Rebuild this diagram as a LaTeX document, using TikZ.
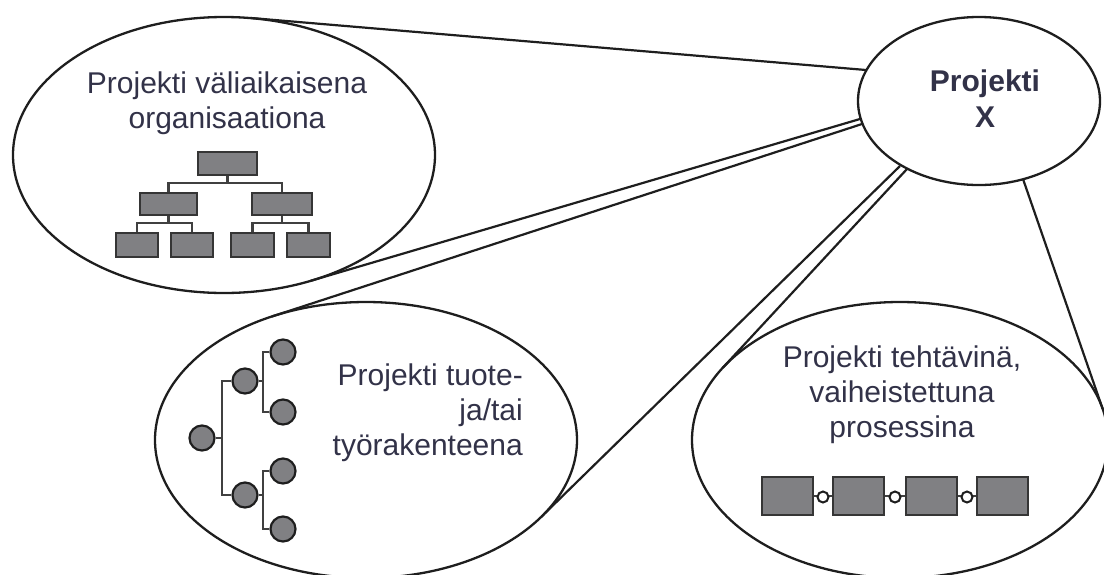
\documentclass[tikz,border=0pt]{standalone}
\usepackage{fontspec}
\setmainfont{Liberation Sans}
\usetikzlibrary{shapes.geometric}
\definecolor{ink}{RGB}{30,30,30}
\definecolor{txt}{RGB}{50,50,72}
\definecolor{boxgray}{RGB}{128,128,131}
\begin{document}
\begin{tikzpicture}[x=1pt,y=-1pt,
  bubble/.style={ellipse, draw=ink, line width=2.3pt, inner sep=0pt},
  link/.style={draw=ink, line width=2.2pt},
  orgbox/.style={rectangle, draw=ink!90, fill=boxgray, line width=2.4pt, inner sep=0pt},
  treenode/.style={circle, draw=ink, fill=boxgray, line width=2.2pt, minimum size=25pt, inner sep=0pt},
  joint/.style={circle, draw=ink, fill=white, line width=2pt, minimum size=11pt, inner sep=0pt},
  tie/.style={draw=ink!85, line width=2.2pt},
  lbl/.style={text=txt, font=\fontsize{30}{35}\selectfont, inner sep=0pt}
]
\useasboundingbox (0,0) rectangle (1104,574);
\clip (0,0) rectangle (1104,574);

% bubbles
\node[bubble, minimum width=422pt, minimum height=276pt] (tl) at (224,155) {};
\node[bubble, minimum width=242pt, minimum height=168pt] (px) at (979,101) {};
\node[bubble, minimum width=422pt, minimum height=276pt] (bm) at (366,440) {};
\node[bubble, minimum width=416pt, minimum height=276pt] (br) at (900,440) {};

% tangent points
\coordinate (x1) at (866,70);    \coordinate (t1) at (251,18);
\coordinate (x2) at (860,119);   \coordinate (t2) at (310.7,280.8);
\coordinate (x3) at (862,124);   \coordinate (t3) at (271.9,316.5);
\coordinate (x4) at (900,166);   \coordinate (t4) at (541.4,516.7);
\coordinate (x5) at (907,169);   \coordinate (t5) at (722.8,367.7);
\coordinate (x6) at (1023,179);  \coordinate (t6) at (1102.7,409);

\draw[link] (x1) -- (t1);
\draw[link] (x2) -- (t2);
\draw[link] (x3) -- (t3);
\draw[link] (x4) -- (t4);
\draw[link] (x5) -- (t5);
\draw[link] (x6) -- (t6);

% texts
\node[lbl, align=center] (tltext) at (227,103) {Projekti väliaikaisena\\organisaationa};
\node[lbl, font=\fontsize{30}{36}\selectfont\bfseries, align=center] (pxtext) at (985,99) {Projekti\\X};
\node[lbl, align=right, anchor=east] (bmtext) at (523,413) {Projekti tuote-\\ja/tai\\työrakenteena};
\node[lbl, align=center] (brtext) at (902,395) {Projekti tehtävinä,\\vaiheistettuna\\prosessina};

% org chart
\node[orgbox, minimum width=59pt, minimum height=23pt] (o0) at (227.5,163.5) {};
\node[orgbox, minimum width=57pt, minimum height=22pt] (o1) at (168.5,204) {};
\node[orgbox, minimum width=60pt, minimum height=22pt] (o2) at (282,204) {};
\node[orgbox, minimum width=42pt, minimum height=24pt] (o11) at (137,245) {};
\node[orgbox, minimum width=42pt, minimum height=24pt] (o12) at (192,245) {};
\node[orgbox, minimum width=43pt, minimum height=24pt] (o21) at (252.5,245) {};
\node[orgbox, minimum width=43pt, minimum height=24pt] (o22) at (308.5,245) {};
\coordinate (j0) at (227.5,183);
\coordinate (j1) at (168.5,223);
\coordinate (j2) at (282,223);
\draw[tie] (o0.south) -- (j0);
\draw[tie] (o1.north) |- (j0) -| (o2.north);
\draw[tie] (o1.south) -- (j1);
\draw[tie] (o11.north) |- (j1) -| (o12.north);
\draw[tie] (o2.south) -- (j2);
\draw[tie] (o21.north) |- (j2) -| (o22.north);

% tree
\node[treenode] (r) at (202,438) {};
\node[treenode] (m1) at (245,381) {};
\node[treenode] (m2) at (245,495) {};
\node[treenode] (l1) at (283,352) {};
\node[treenode] (l2) at (283,412) {};
\node[treenode] (l3) at (283,471) {};
\node[treenode] (l4) at (283,529) {};
\coordinate (v1) at (222,438);
\coordinate (v2) at (263,381);
\coordinate (v3) at (263,495);
\draw[tie] (r.east) -- (v1);
\draw[tie] (m1.west) -| (v1) |- (m2.west);
\draw[tie] (m1.east) -- (v2);
\draw[tie] (l1.west) -| (v2) |- (l2.west);
\draw[tie] (m2.east) -- (v3);
\draw[tie] (l3.west) -| (v3) |- (l4.west);

% process chain
\node[orgbox, minimum width=51pt, minimum height=38pt] (b1) at (787.5,496) {};
\node[orgbox, minimum width=51pt, minimum height=38pt] (b2) at (858.5,496) {};
\node[orgbox, minimum width=51pt, minimum height=38pt] (b3) at (931.5,496) {};
\node[orgbox, minimum width=51pt, minimum height=38pt] (b4) at (1002.5,496) {};
\draw[tie] (b1.east) -- (b2.west);
\draw[tie] (b2.east) -- (b3.west);
\draw[tie] (b3.east) -- (b4.west);
\node[joint] (c1) at (823,497) {};
\node[joint] (c2) at (895,497) {};
\node[joint] (c3) at (967,497) {};
\end{tikzpicture}
\end{document}
